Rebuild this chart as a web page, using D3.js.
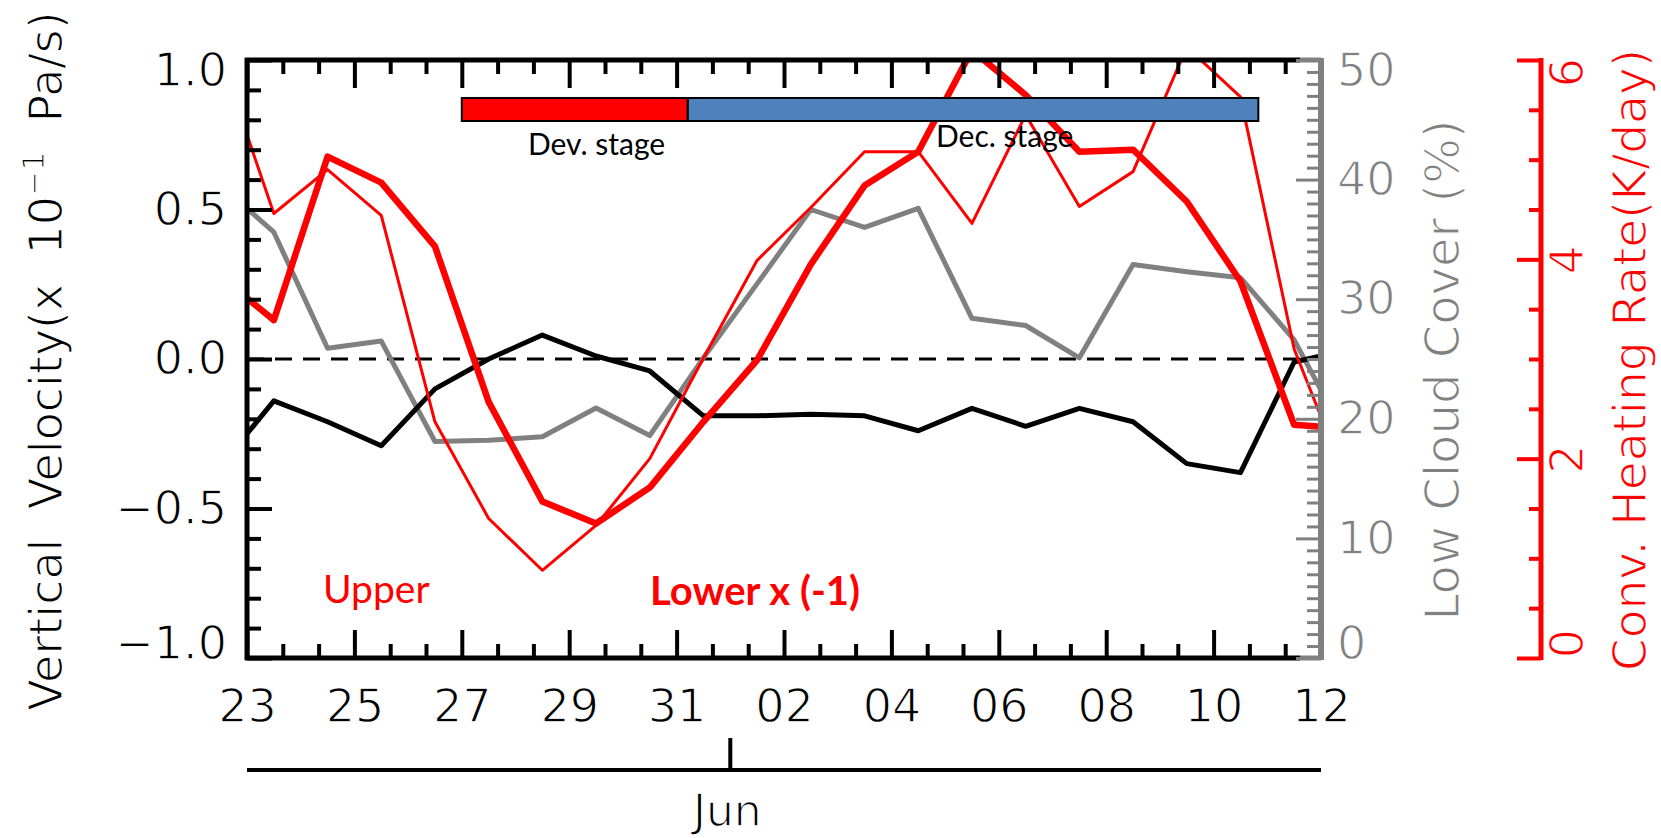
<!DOCTYPE html>
<html>
<head>
<meta charset="utf-8">
<script src="https://cdn.jsdelivr.net/npm/d3@7"></script>
<style>
  body { margin: 0; background: #fff; }
  svg { display: block; }
  text { white-space: pre; }
  .idl { stroke: #fff; stroke-width: 1.3px; }
</style>
</head>
<body>
<svg id="svg" width="1661" height="838"></svg>
<script>
// daily means plotted at noon; first and last entries sit on the frame edges
var times = ['05-23 00', '05-23 12', '05-24 12', '05-25 12', '05-26 12', '05-27 12', '05-28 12',
  '05-29 12', '05-30 12', '05-31 12', '06-01 12', '06-02 12', '06-03 12', '06-04 12', '06-05 12',
  '06-06 12', '06-07 12', '06-08 12', '06-09 12', '06-10 12', '06-11 12', '06-12 00'];

// vertical velocity (x 10^-1 Pa/s), left axis
var omega = [-0.25, -0.14, -0.21, -0.29, -0.10, 0.00, 0.08, 0.01, -0.04, -0.19, -0.19,
  -0.185, -0.19, -0.24, -0.165, -0.225, -0.165, -0.21, -0.35, -0.38, -0.01, 0.01];

// low cloud cover (%), grey axis
var lowCloud = [37.6, 35.6, 25.9, 26.5, 18.1, 18.2, 18.5, 20.9, 18.6, 25.1, 31.3,
  37.5, 36.0, 37.6, 28.4, 27.8, 25.1, 32.9, 32.3, 31.8, 26.6, 22.4];

// convective heating rate (K/day), red axis
var heatUpper = [5.25, 4.46, 4.90, 4.44, 2.37, 1.40, 0.88, 1.33, 2.00, 3.01, 3.99,
  4.52, 5.08, 5.08, 4.36, 5.45, 4.53, 4.88, 6.13, 5.63, 3.10, 2.42];
var heatLower = [3.61, 3.39, 5.03, 4.77, 4.13, 2.57, 1.57, 1.35, 1.71, 2.37, 2.99,
  3.95, 4.74, 5.08, 6.10, 5.65, 5.08, 5.10, 4.58, 3.78, 2.34, 2.32];

var tickDates = ['05-23', '05-25', '05-27', '05-29', '05-31', '06-02', '06-04', '06-06', '06-08', '06-10', '06-12'];
var tickLabels = ['23', '25', '27', '29', '31', '02', '04', '06', '08', '10', '12'];
var monthDate = '06-01';
var monthLabel = 'Jun';

var stageNames = ['Dev. stage', 'Dec. stage'];
var stageBounds = ['05-27 00', '05-31 05', '06-10 20'];

var parseT = d3.timeParse('%m-%d %H');
var parseD = d3.timeParse('%m-%d');

var svg = d3.select('#svg');
var plot = {left: 247, right: 1321, top: 60, bottom: 658};
var font = "'DejaVu Sans', sans-serif";
var calibri = "Lato, 'Open Sans', sans-serif";
var grey = '#808080';
var red = '#ff0000';

var x = d3.scaleTime()
  .domain([parseT(times[0]), parseT(times[times.length - 1])])
  .range([plot.left, plot.right]);
var yL = d3.scaleLinear().domain([-1, 1]).range([plot.bottom, plot.top]);
var yC = d3.scaleLinear().domain([0, 50]).range([plot.bottom, plot.top]);
var yH = d3.scaleLinear().domain([0, 6]).range([plot.bottom, plot.top]);

// IDL pulls the end labels inside the axis range
function shiftEnd(sel) {
  sel.selectAll('.tick text').attr('transform', function() {
    var t = d3.select(this.parentNode).attr('transform');
    var ty = +t.match(/,\s*([-\d.]+)/)[1];
    if (ty < plot.top + 5) return 'translate(0,11)';
    if (ty > plot.bottom - 5) return 'translate(0,-14)';
    return null;
  });
}

function styleAxis(g, color, w) {
  g.attr('font-family', font).attr('font-size', 46);
  g.select('.domain').remove();
  g.selectAll('.tick line').attr('stroke', color).attr('stroke-width', w);
  g.selectAll('.tick text').attr('fill', color).attr('class', 'idl');
}

// clip for the data lines
svg.append('clipPath').attr('id', 'clip')
  .append('rect')
  .attr('x', plot.left).attr('y', plot.top)
  .attr('width', plot.right - plot.left).attr('height', plot.bottom - plot.top);

// zero line
svg.append('line')
  .attr('x1', plot.left).attr('x2', plot.right)
  .attr('y1', yL(0)).attr('y2', yL(0))
  .attr('stroke', '#000').attr('stroke-width', 3)
  .attr('stroke-dasharray', '17,11');

var lineGrp = svg.append('g').attr('clip-path', 'url(#clip)');

function drawLine(vals, y, color, width) {
  var line = d3.line()
    .x(function(d, i) { return x(parseT(times[i])); })
    .y(function(d) { return y(d); });
  lineGrp.append('path').datum(vals)
    .attr('d', line)
    .attr('fill', 'none')
    .attr('stroke', color)
    .attr('stroke-width', width)
    .attr('stroke-linejoin', 'round');
}
drawLine(lowCloud, yC, grey, 5);
drawLine(omega, yL, '#000', 5);
drawLine(heatUpper, yH, red, 3);
drawLine(heatLower, yH, red, 6.5);

// x axes (bottom with labels, top mirrored)
var xMajor = tickDates.map(parseD);
var xMinor = d3.range(0, 31)
  .filter(function(i) { return i % 3 !== 0; })
  .map(function(i) { return d3.timeHour.offset(x.domain()[0], 16 * i); });

var xb = svg.append('g').attr('transform', 'translate(0,' + plot.bottom + ')')
  .call(d3.axisBottom(x).tickValues(xMajor)
    .tickFormat(function(d, i) { return tickLabels[i]; })
    .tickSizeInner(-28).tickSizeOuter(0).tickPadding(31));
styleAxis(xb, '#000', 4);
var xbm = svg.append('g').attr('transform', 'translate(0,' + plot.bottom + ')')
  .call(d3.axisBottom(x).tickValues(xMinor).tickFormat('').tickSizeInner(-14).tickSizeOuter(0));
styleAxis(xbm, '#000', 4);

var xt = svg.append('g').attr('transform', 'translate(0,' + plot.top + ')')
  .call(d3.axisTop(x).tickValues(xMajor).tickFormat('').tickSizeInner(-28).tickSizeOuter(0));
styleAxis(xt, '#000', 4);
var xtm = svg.append('g').attr('transform', 'translate(0,' + plot.top + ')')
  .call(d3.axisTop(x).tickValues(xMinor).tickFormat('').tickSizeInner(-14).tickSizeOuter(0));
styleAxis(xtm, '#000', 4);

// left axis
var yl = svg.append('g').attr('transform', 'translate(' + plot.left + ',0)')
  .call(d3.axisLeft(yL).tickValues([-1, -0.5, 0, 0.5, 1])
    .tickFormat(d3.format('.1f')).tickSizeInner(-25).tickSizeOuter(0).tickPadding(20));
styleAxis(yl, '#000', 4);
shiftEnd(yl);
var ylm = svg.append('g').attr('transform', 'translate(' + plot.left + ',0)')
  .call(d3.axisLeft(yL).tickValues(d3.range(-10, 11).filter(function(i) { return i % 5 !== 0; })
    .map(function(i) { return i / 10; })).tickFormat('').tickSizeInner(-14).tickSizeOuter(0));
styleAxis(ylm, '#000', 4);

// frame
var frameX = plot.right - 21;
[plot.top, plot.bottom].forEach(function(yy) {
  svg.append('line').attr('x1', plot.left - 2).attr('x2', frameX).attr('y1', yy).attr('y2', yy)
    .attr('stroke', '#000').attr('stroke-width', 5);
  svg.append('line').attr('x1', frameX).attr('x2', plot.right).attr('y1', yy).attr('y2', yy)
    .attr('stroke', grey).attr('stroke-width', 5);
});
svg.append('line').attr('x1', plot.left).attr('x2', plot.left)
  .attr('y1', plot.top - 2).attr('y2', plot.bottom + 2)
  .attr('stroke', '#000').attr('stroke-width', 5);

// grey cloud axis
var yc = svg.append('g').attr('transform', 'translate(' + plot.right + ',0)')
  .call(d3.axisRight(yC).tickValues(d3.range(0, 51, 10))
    .tickSizeInner(-25).tickSizeOuter(0).tickPadding(16));
styleAxis(yc, grey, 3);
shiftEnd(yc);
var ycm = svg.append('g').attr('transform', 'translate(' + plot.right + ',0)')
  .call(d3.axisRight(yC).tickValues(d3.range(0, 51).filter(function(v) { return v % 10 !== 0; }))
    .tickFormat('').tickSizeInner(-14).tickSizeOuter(0));
styleAxis(ycm, grey, 3);
svg.append('line').attr('x1', plot.right).attr('x2', plot.right)
  .attr('y1', plot.top - 2).attr('y2', plot.bottom + 2)
  .attr('stroke', grey).attr('stroke-width', 6);

// red heating axis
var redX = 1541;
var yh = svg.append('g').attr('transform', 'translate(' + redX + ',0)')
  .call(d3.axisRight(yH).tickValues([0, 2, 4, 6]).tickFormat(d3.format('d'))
    .tickSizeInner(-24).tickSizeOuter(0));
styleAxis(yh, red, 4);
yh.selectAll('.tick text')
  .attr('x', 0).attr('y', 0).attr('dy', null)
  .attr('text-anchor', 'middle')
  .attr('transform', function(d) {
    var sh = d === 6 ? 12 : (d === 0 ? -15 : 0);
    return 'translate(42,' + sh + ') rotate(-90)';
  });
var yhm = svg.append('g').attr('transform', 'translate(' + redX + ',0)')
  .call(d3.axisRight(yH).tickValues(d3.range(1, 12, 1).filter(function(i) { return i % 4 !== 0; })
    .map(function(i) { return i / 2; })).tickFormat('').tickSizeInner(-12).tickSizeOuter(0));
styleAxis(yhm, red, 4);
svg.append('line').attr('x1', redX).attr('x2', redX)
  .attr('y1', plot.top - 2).attr('y2', plot.bottom + 2)
  .attr('stroke', red).attr('stroke-width', 5);

// axis titles
var tl = svg.append('text').attr('class', 'idl')
  .attr('transform', 'translate(62,' + ((plot.top + plot.bottom) / 2 + 2) + ') rotate(-90)')
  .attr('text-anchor', 'middle')
  .attr('font-family', font).attr('font-size', 46).attr('fill', '#000');
tl.append('tspan').text('Vertical  Velocity(x  10');
tl.append('tspan').attr('font-size', 30).attr('dy', -18).text('\u22121');
tl.append('tspan').attr('dy', 18).text('  Pa/s)');

svg.append('text').attr('class', 'idl')
  .attr('transform', 'translate(1459,370) rotate(-90)')
  .attr('text-anchor', 'middle')
  .attr('font-family', font).attr('font-size', 48).attr('fill', grey)
  .text('Low Cloud Cover (%)');

svg.append('text').attr('class', 'idl')
  .attr('transform', 'translate(1646,360) rotate(-90)')
  .attr('text-anchor', 'middle')
  .attr('font-family', font).attr('font-size', 47).attr('fill', red)
  .text('Conv. Heating Rate(K/day)');

// month axis below the dates
var jun = x(parseD(monthDate));
svg.append('line').attr('x1', plot.left).attr('x2', plot.right).attr('y1', 770).attr('y2', 770)
  .attr('stroke', '#000').attr('stroke-width', 4);
svg.append('line').attr('x1', jun).attr('x2', jun).attr('y1', 738).attr('y2', 770)
  .attr('stroke', '#000').attr('stroke-width', 4);
svg.append('text').attr('class', 'idl').attr('x', jun - 3).attr('y', 826)
  .attr('text-anchor', 'middle')
  .attr('font-family', font).attr('font-size', 44)
  .text(monthLabel);

// stage bars
var stageColors = [red, '#4f81bd'];
svg.selectAll('rect.stage').data(stageNames).enter()
  .append('rect').attr('class', 'stage')
  .attr('x', function(d, i) { return x(parseT(stageBounds[i])); })
  .attr('width', function(d, i) { return x(parseT(stageBounds[i + 1])) - x(parseT(stageBounds[i])); })
  .attr('y', 98).attr('height', 23)
  .attr('fill', function(d, i) { return stageColors[i]; })
  .attr('stroke', '#000').attr('stroke-width', 2);

var stageLabelPos = [[528, 155], [936, 147]];
svg.selectAll('text.stage').data(stageNames).enter()
  .append('text').attr('class', 'stage')
  .attr('x', function(d, i) { return stageLabelPos[i][0]; })
  .attr('y', function(d, i) { return stageLabelPos[i][1]; })
  .attr('font-family', calibri).attr('font-size', 30).attr('fill', '#000')
  .text(function(d) { return d; });

// series labels
svg.append('text').attr('x', 323).attr('y', 603)
  .attr('font-family', calibri).attr('font-size', 39).attr('fill', red)
  .text('Upper');
svg.append('text').attr('x', 650).attr('y', 605)
  .attr('font-family', calibri).attr('font-size', 40).attr('font-weight', 'bold').attr('fill', red)
  .text('Lower x (-1)');
</script>
</body>
</html>
